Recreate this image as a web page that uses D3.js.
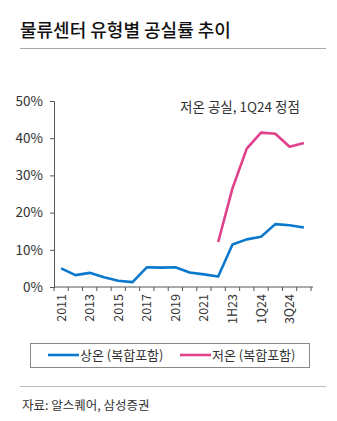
<!DOCTYPE html>
<html>
<head>
<meta charset="utf-8">
<script src="https://cdn.jsdelivr.net/npm/d3@7"></script>
<style>
  body { margin: 0; background: #fff; }
  svg text { font-family: "Noto Sans CJK KR", "Noto Sans", sans-serif; fill: #333; }
</style>
</head>
<body>
<div id="chart"></div>
<script>
// data
const periods = ["2011","2012","2013","2014","2015","2016","2017","2018","2019","2020","2021","2022",
  "1H23","2H23","1Q24","2Q24","3Q24","4Q24"]
const tickLabels = ["2011","2013","2015","2017","2019","2021","1H23","1Q24","3Q24"]
const ambient = [5.0,3.2,3.8,2.6,1.7,1.3,5.3,5.2,5.3,3.9,3.4,2.8,11.4,12.8,13.5,16.9,16.6,16.0]
const cold = [null,null,null,null,null,null,null,null,null,null,null,12.1,26.5,37.2,41.5,41.2,37.7,38.7]
const yTicks = [0,10,20,30,40,50]

const width = 337
const height = 421
const margins = {top: 101, right: 24, bottom: 134, left: 54}
const boundedWidth = 311 - margins.left
const boundedHeight = height - margins.top - margins.bottom

const svg = d3.select("#chart")
  .append("svg")
  .attr("width", width)
  .attr("height", height)

// title
svg.append("text")
  .attr("x", 20)
  .attr("y", 37)
  .attr("font-size", 18)
  .attr("font-weight", 500)
  .style("fill", "#111")
  .text("물류센터 유형별 공실률 추이")
svg.append("line")
  .attr("x1", 20).attr("x2", 326)
  .attr("y1", 48.5).attr("y2", 48.5)
  .attr("stroke", "#aaa")

const bounds = svg.append("g")
  .attr("transform", `translate(${margins.left}, ${margins.top})`)

// scales
const xScale = d3.scaleBand()
  .domain(periods)
  .range([0, boundedWidth])
  .padding(0)
const yScale = d3.scaleLinear()
  .domain([0, 50])
  .range([boundedHeight, 0])

// axes
const yAxis = bounds.append("g")
  .call(d3.axisLeft(yScale).tickValues(yTicks).tickSize(4).tickFormat(d => d + "%"))
yAxis.select(".domain").attr("stroke", "#555")
yAxis.selectAll(".tick line").attr("stroke", "#555")
yAxis.selectAll("text")
  .attr("x", -11)
  .attr("font-size", 13.5)
  .style("fill", "#333")

const xAxis = bounds.append("g")
  .attr("transform", `translate(0, ${boundedHeight})`)
xAxis.append("line")
  .attr("x1", 0).attr("x2", boundedWidth + 2)
  .attr("stroke", "#555")
xAxis.selectAll(".xtick")
  .data(periods.concat(["end"]))
  .enter().append("line")
    .attr("x1", (d, i) => i < periods.length ? xScale(d) : boundedWidth)
    .attr("x2", (d, i) => i < periods.length ? xScale(d) : boundedWidth)
    .attr("y1", 0).attr("y2", 4)
    .attr("stroke", "#555")
xAxis.selectAll(".xlabel")
  .data(tickLabels)
  .enter().append("text")
    .attr("transform", d => `translate(${xScale(d) + xScale.bandwidth() / 2 + 4.5}, 7) rotate(-90)`)
    .attr("text-anchor", "end")
    .attr("font-size", 12.5)
    .style("fill", "#333")
    .text(d => d)

// lines
const lineGenerator = d3.line()
  .defined(d => d.v != null)
  .x(d => xScale(d.p) + xScale.bandwidth() / 2)
  .y(d => yScale(d.v))

const series = [
  {name: "상온 (복합포함)", values: ambient, color: "#0a78cc"},
  {name: "저온 (복합포함)", values: cold, color: "#e0418a"},
]
series.forEach(s => {
  bounds.append("path")
    .datum(periods.map((p, i) => ({p: p, v: s.values[i]})))
    .attr("fill", "none")
    .attr("stroke", s.color)
    .attr("stroke-width", 2.6)
    .attr("stroke-linejoin", "round")
    .attr("d", lineGenerator)
})

// annotation
svg.append("text")
  .attr("x", 240)
  .attr("y", 112)
  .attr("text-anchor", "middle")
  .attr("font-size", 13.5)
  .text("저온 공실, 1Q24 정점")

// legend
svg.append("rect")
  .attr("x", 30.5).attr("y", 343.5)
  .attr("width", 279).attr("height", 24)
  .attr("fill", "none")
  .attr("stroke", "#888")
const legendX = [48, 180]
series.forEach((s, i) => {
  svg.append("line")
    .attr("x1", legendX[i]).attr("x2", legendX[i] + 31)
    .attr("y1", 355).attr("y2", 355)
    .attr("stroke", s.color)
    .attr("stroke-width", 2.6)
  svg.append("text")
    .attr("x", legendX[i] + 32)
    .attr("y", 360)
    .attr("font-size", 13)
    .text(s.name)
})

// source
svg.append("line")
  .attr("x1", 20).attr("x2", 326)
  .attr("y1", 386.5).attr("y2", 386.5)
  .attr("stroke", "#bbb")
svg.append("text")
  .attr("x", 22)
  .attr("y", 410)
  .attr("font-size", 12.5)
  .text("자료: 알스퀘어, 삼성증권")
</script>
</body>
</html>
